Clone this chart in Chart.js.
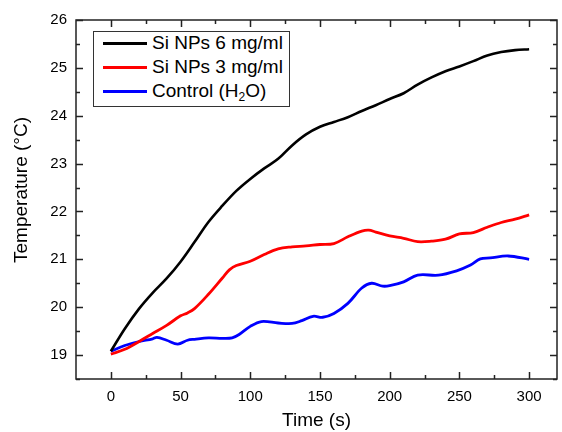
<!DOCTYPE html>
<html>
<head>
<meta charset="utf-8">
<script src="https://cdn.jsdelivr.net/npm/chart.js@4/dist/chart.umd.min.js"></script>
<style>
  html, body { margin: 0; padding: 0; background: #fff; }
  #wrap { position: relative; width: 562px; height: 432px; }
  canvas { display: block; }
  #legend {
    position: absolute; left: 93px; top: 31px; width: 195px; height: 74px;
    border: 1.5px solid #333; background: #fff;
    font-family: "Liberation Sans", Arial, sans-serif; font-size: 19px; color: #000;
  }
  .row { position: absolute; left: 0; height: 24px; line-height: 24px; white-space: nowrap; }
  .row .ln { position: absolute; left: 9px; top: 10.5px; width: 44px; height: 3px; }
  .row .tx { position: absolute; left: 58px; top: 0; }
  sub { font-size: 12px; vertical-align: -4px; line-height: 0; }
</style>
</head>
<body>
<div id="wrap">
  <canvas id="c" width="562" height="432"></canvas>
  <div id="legend"></div>
</div>
<script>
// ---- data ----
const seriesNames = ["Si NPs 6 mg/ml", "Si NPs 3 mg/ml", "Control (H<sub>2</sub>O)"];
const yTitle = "Temperature (°C)";
const xTitle = "Time (s)";

const timeBlack = [0,10,20,30,40,50,60,70,80,90,100,110,120,130,140,150,160,170,180,190,200,210,220,230,240,250,260,270,280,290,300];
const tempBlack = [19.08,19.55,19.96,20.3,20.6,20.95,21.36,21.78,22.12,22.43,22.68,22.9,23.1,23.38,23.61,23.77,23.87,23.97,24.1,24.22,24.35,24.47,24.65,24.8,24.93,25.03,25.14,25.26,25.33,25.37,25.39];

const timeRed = [0,10,20,30,40,50,55,60,70,80,85,90,100,110,120,130,140,150,160,170,180,185,190,200,210,220,230,240,250,260,270,280,290,300];
const tempRed = [19.02,19.12,19.28,19.45,19.62,19.82,19.88,19.97,20.27,20.61,20.78,20.87,20.96,21.1,21.22,21.26,21.28,21.31,21.33,21.47,21.59,21.61,21.57,21.49,21.44,21.37,21.38,21.42,21.53,21.56,21.67,21.77,21.84,21.93];

const timeBlue = [0,10,20,30,33,40,48,55,60,70,80,87,92,100,108,120,130,137,145,152,160,170,180,187,195,200,210,220,235,248,258,265,272,285,300];
const tempBlue = [19.08,19.2,19.28,19.34,19.37,19.31,19.23,19.31,19.33,19.36,19.35,19.36,19.43,19.6,19.7,19.67,19.66,19.72,19.81,19.79,19.87,20.08,20.4,20.5,20.44,20.45,20.53,20.67,20.67,20.76,20.88,21.01,21.03,21.07,21.0];

const xTicks = [0,50,100,150,200,250,300];
const yTicks = [19,20,21,22,23,24,25,26];
const xMinor = [25,75,125,175,225,275];
const yMinor = [18.5,19.5,20.5,21.5,22.5,23.5,24.5,25.5];
const colors = ["#000000", "#ff0000", "#0000ff"];

function pts(xs, ys) { return xs.map((x, i) => ({ x: x, y: ys[i] })); }

// legend (HTML, real text)
const leg = document.getElementById('legend');
seriesNames.forEach((n, i) => {
  const r = document.createElement('div');
  r.className = 'row';
  r.style.top = (-1 + i * 24) + 'px';
  r.innerHTML = '<div class="ln" style="background:' + colors[i] + '"></div><div class="tx">' + n + '</div>';
  leg.appendChild(r);
});

const FONT = '"Liberation Sans", Arial, sans-serif';

const frame = {
  id: 'frame',
  afterDatasetsDraw(chart) {
    const { ctx, chartArea: a, scales: { x, y } } = chart;
    ctx.save();
    ctx.strokeStyle = '#222';
    ctx.lineWidth = 1.5;
    ctx.strokeRect(a.left, a.top, a.right - a.left, a.bottom - a.top);
    ctx.beginPath();
    const tick = (v, len, axis) => {
      if (axis === 'x') {
        const p = Math.round(x.getPixelForValue(v)) + 0.5;
        ctx.moveTo(p, a.bottom); ctx.lineTo(p, a.bottom - len);
        ctx.moveTo(p, a.top); ctx.lineTo(p, a.top + len);
      } else {
        const p = Math.round(y.getPixelForValue(v)) + 0.5;
        ctx.moveTo(a.left, p); ctx.lineTo(a.left + len, p);
        ctx.moveTo(a.right, p); ctx.lineTo(a.right - len, p);
      }
    };
    xTicks.forEach(v => tick(v, 7, 'x'));
    xMinor.forEach(v => tick(v, 4, 'x'));
    yTicks.forEach(v => tick(v, 7, 'y'));
    yMinor.forEach(v => tick(v, 4, 'y'));
    ctx.stroke();
    // y axis title (rotated), placed as in the reference
    ctx.fillStyle = '#000';
    ctx.font = '19px ' + FONT;
    ctx.textAlign = 'center';
    ctx.textBaseline = 'middle';
    ctx.translate(22, 190);
    ctx.rotate(-Math.PI / 2);
    ctx.fillText(yTitle, 0, 0);
    ctx.restore();
  }
};

new Chart(document.getElementById('c'), {
  type: 'line',
  data: {
    datasets: [
      { label: 'Si NPs 6 mg/ml', data: pts(timeBlack, tempBlack), borderColor: colors[0], borderWidth: 2.6 },
      { label: 'Si NPs 3 mg/ml', data: pts(timeRed, tempRed), borderColor: colors[1], borderWidth: 2.8 },
      { label: 'Control (H2O)', data: pts(timeBlue, tempBlue), borderColor: colors[2], borderWidth: 2.8 }
    ]
  },
  options: {
    responsive: false,
    animation: false,
    layout: { padding: { left: 0, right: 5, top: 20, bottom: 0 } },
    elements: { point: { radius: 0 }, line: { tension: 0.35, fill: false } },
    plugins: { legend: { display: false }, tooltip: { enabled: false } },
    scales: {
      x: {
        type: 'linear', min: -25, max: 320,
        afterBuildTicks: s => { s.ticks = xTicks.map(v => ({ value: v })); },
        afterFit: s => { s.height = 53; },
        grid: { display: false, drawTicks: false },
        border: { display: false },
        ticks: { color: '#000', font: { family: FONT, size: 15 }, padding: 9, maxRotation: 0 },
        title: { display: true, text: xTitle, color: '#000', font: { family: FONT, size: 19 }, padding: { top: 0, bottom: 0 } }
      },
      y: {
        type: 'linear', min: 18.5, max: 26,
        afterBuildTicks: s => { s.ticks = yTicks.map(v => ({ value: v })); },
        afterFit: s => { s.width = 76; },
        grid: { display: false, drawTicks: false },
        border: { display: false },
        ticks: { color: '#000', font: { family: FONT, size: 15 }, padding: 9 },
        title: { display: false }
      }
    }
  },
  plugins: [frame]
});
</script>
</body>
</html>
